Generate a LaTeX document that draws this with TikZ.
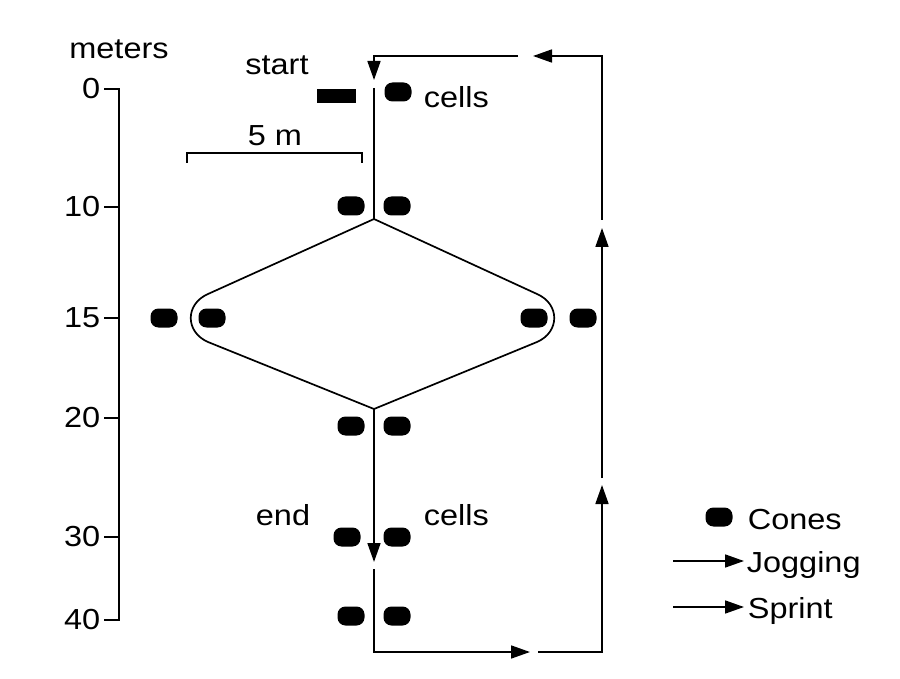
\documentclass[tikz,border=0pt]{standalone}
\usepackage{fontspec}
\setmainfont{Liberation Sans}[FakeStretch=1.12]
\usetikzlibrary{positioning,arrows.meta}

\begin{document}
\begin{tikzpicture}[
  x=1pt, y=-1pt,
  line width=1.7pt,
  cone/.style={rectangle, fill=black, rounded corners=8pt, minimum width=27pt, minimum height=19pt, inner sep=0pt},
  txt/.style={font=\fontsize{29}{33}\selectfont, inner sep=0pt},
  run/.style={-{Triangle[length=19pt, width=13pt]}}
]
\useasboundingbox (0,0) rectangle (900,679);

% distance axis
\draw (104,89) -- (119,89) -- (119,620) -- (104,620);
\foreach \yy/\lab in {89/0, 207/10, 318/15, 418/20, 537/30, 620/40} {
  \draw (104,\yy) -- (119,\yy);
  \node[txt, anchor=east] (m\lab) at (101,\yy) {\lab};
}
\node[txt, anchor=base] (meters) at (119,59) {meters};

% cones and start line
\node[fill=black, minimum width=39pt, minimum height=14pt, inner sep=0pt] (startbar) at (336,96) {};
\node[cone] (c0r) at (398,92) {};
\node[cone] (c10l) at (351,206) {};
\node[cone] (c10r) at (397,206) {};
\node[cone] (c15a) at (164,318) {};
\node[cone] (c15b) at (212,318) {};
\node[cone] (c15c) at (534,318) {};
\node[cone] (c15d) at (583,318) {};
\node[cone] (c20l) at (351,426) {};
\node[cone] (c20r) at (397,426) {};
\node[cone] (c30l) at (347,537) {};
\node[cone] (c30r) at (397,537) {};
\node[cone] (c40l) at (351,616) {};
\node[cone] (c40r) at (397,616) {};

% texts
\node[txt, anchor=base] (start) at (277,75) {start};
\node[txt, anchor=base west] (cellsup) at (423,108) {cells};
\node[txt, anchor=base] (fivem) at (275,146) {5 m};
\node[txt, anchor=base] (end) at (283,525) {end};
\node[txt, anchor=base west] (cellsdn) at (423,525) {cells};

% 5 m scale bar
\coordinate (sbl) at (187,163);
\coordinate (sbr) at (362,163);
\draw (sbl) -- ++(0,-10) -| (sbr);

% course
\coordinate (in) at (374,88);
\coordinate (top) at (374,219);
\coordinate (bot) at (374,409);
\coordinate (endtip) at (374,562);
\coordinate (p1) at (374,569);
\coordinate (p2) at (530,652);
\coordinate (p3) at (538,652);
\coordinate (p4) at (602,485);
\coordinate (p5) at (602,478);
\coordinate (p6) at (602,228);
\coordinate (p7) at (602,220);
\coordinate (p8) at (533,56);
\coordinate (p9) at (518,56);
\coordinate (starttip) at (374,80);

\draw (in) -- (top);
\draw (top) -- (208,294) .. controls (185,304) and (185,332) .. (208,342) -- (bot)
  -- (537,342) .. controls (560,332) and (560,304) .. (537,294) -- cycle;
\draw[run] (bot) -- (endtip);
\draw[run] (p1) |- (p2);
\draw[run] (p3) -| (p4);
\draw[run] (p5) -- (p6);
\draw[run] (p7) |- (p8);
\draw[run] (p9) -| (starttip);

% legend
\node[cone] (keycone) at (719,517) {};
\node[txt, anchor=base west] (cones) at (747,529) {Cones};
\node[txt, anchor=base west] (jog) at (746,572) {Jogging};
\node[txt, anchor=base west] (sprint) at (747,618) {Sprint};
\coordinate (jogfrom) at (673,561);
\coordinate (sprfrom) at (673,607);
\draw[run] (jogfrom) -- (744,561);
\draw[run] (sprfrom) -- (744,607);
\end{tikzpicture}
\end{document}
